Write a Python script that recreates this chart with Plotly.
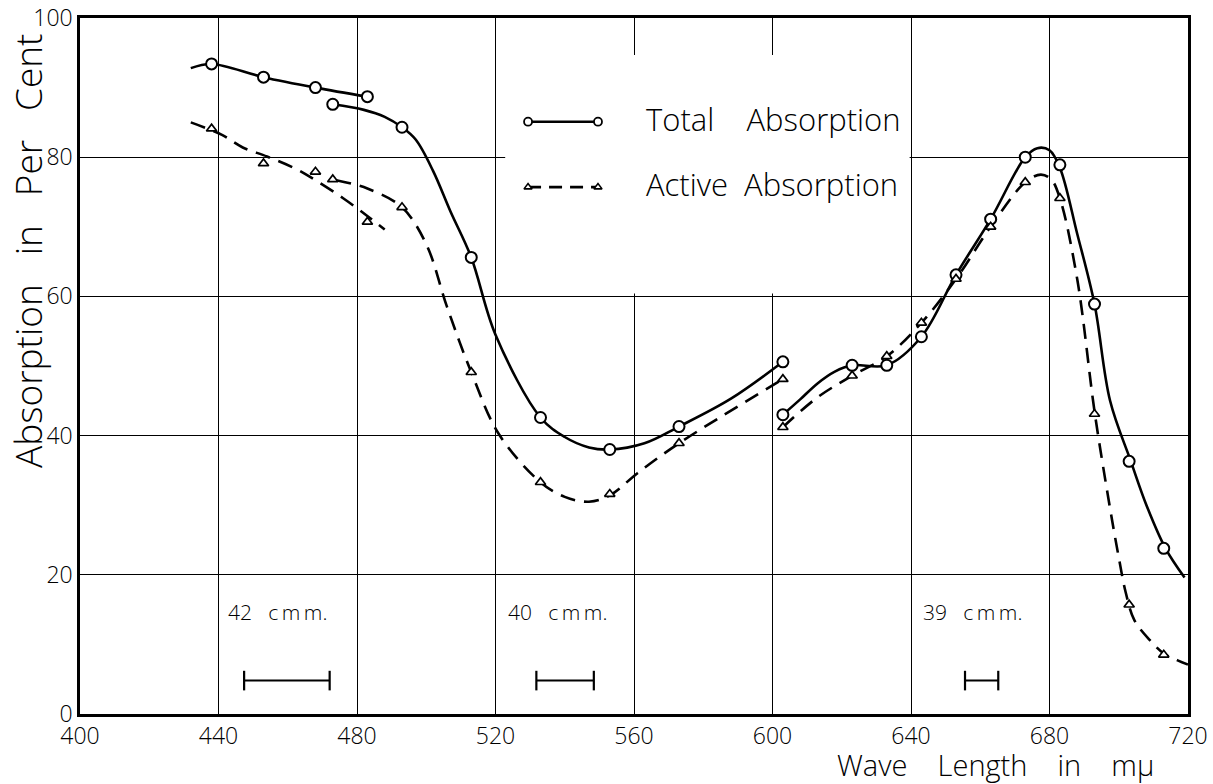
import plotly.graph_objects as go

# ---------------- data ----------------
# Total absorption: smooth curves (three experimental runs)
total_a_x = [432, 438, 453, 468, 483]
total_a_y = [92.8, 93.4, 91.5, 90.0, 88.7]
total_b_x = [473, 482, 488, 493, 497, 502, 507, 513, 520, 533, 540, 547, 553, 563, 573, 588, 603]
total_b_y = [87.6, 86.8, 85.8, 84.3, 82.5, 78.0, 72.2, 65.6, 54.5, 42.6, 39.8, 38.3, 38.0, 38.9, 41.3, 45.3, 50.6]
total_c_x = [603, 608, 613, 618, 623, 633, 643, 653, 663, 673, 676.5, 680, 683, 688, 693, 697.5, 703.5, 708, 713.5, 719]
total_c_y = [43.0, 45.2, 47.5, 49.2, 50.1, 50.1, 54.2, 63.1, 71.1, 80.0, 81.3, 81.0, 78.5, 69.0, 58.9, 45.0, 36.3, 30.0, 23.8, 19.6]

# Active absorption: smooth curves
active_a_x = [432, 441, 447, 454, 462, 468, 476, 482.6, 488]
active_a_y = [85.0, 83.2, 81.4, 80.1, 78.4, 76.7, 74.1, 71.7, 69.6]
active_b_x = [474, 483, 493, 500, 506, 513, 521, 533, 540, 547, 553, 561, 573, 603]
active_b_y = [76.7, 75.5, 72.8, 67.5, 58.5, 49.1, 40.2, 33.3, 31.2, 30.5, 31.4, 34.6, 38.9, 48.1]
active_c_x = [603, 613, 623, 633, 643, 653, 663, 673, 677.5, 680.5, 683, 688, 693, 697, 700, 702, 704.5, 709, 713, 717, 720]
active_c_y = [41.2, 45.5, 48.6, 51.4, 56.2, 62.5, 70.0, 76.4, 77.5, 76.8, 74.1, 62.5, 43.5, 31.0, 22.5, 17.5, 13.5, 10.6, 8.7, 7.7, 7.1]

# measured points
total_mx = [438, 453, 468, 473, 483, 493, 513, 533, 553, 573, 603, 603, 623, 633, 643, 653, 663, 673, 683, 693, 703, 713]
total_my = [93.4, 91.5, 90.0, 87.6, 88.7, 84.3, 65.6, 42.6, 38.0, 41.3, 50.6, 43.0, 50.1, 50.1, 54.2, 63.1, 71.1, 80.0, 78.9, 58.9, 36.3, 23.8]
active_mx = [438, 453, 468, 473, 483, 493, 513, 533, 553, 573, 603, 603, 623, 633, 643, 653, 663, 673, 683, 693, 703, 713]
active_my = [84.1, 79.1, 77.9, 76.8, 70.7, 72.8, 49.1, 33.3, 31.6, 38.9, 48.1, 41.2, 48.6, 51.4, 56.2, 62.5, 70.0, 76.4, 74.1, 43.1, 15.7, 8.5]

# slit-width bars and their labels
bar_start = [447.4, 531.8, 655.6]
bar_end = [472.1, 548.4, 665.2]
bar_y = 4.8
bar_labels = ["42", "40", "39"]
label_x = [442.3, 523.0, 642.9]
label_y = 14.6

x_ticks = [400, 440, 480, 520, 560, 600, 640, 680, 720]
y_ticks = [0, 20, 40, 60, 80, 100]

FONT = "Open Sans"
W = 300
NB = "\u00a0"

fig = go.Figure()

solid = dict(color="black", width=2.6, shape="spline", smoothing=1.0)
dashed = dict(color="black", width=2.6, shape="spline", smoothing=1.0, dash="15px,9px")

for xs, ys in [(total_a_x, total_a_y), (total_b_x, total_b_y), (total_c_x, total_c_y)]:
    fig.add_trace(go.Scatter(x=xs, y=ys, mode="lines", line=solid, showlegend=False, hoverinfo="skip"))
for xs, ys in [(active_a_x, active_a_y), (active_b_x, active_b_y), (active_c_x, active_c_y)]:
    fig.add_trace(go.Scatter(x=xs, y=ys, mode="lines", line=dashed, showlegend=False, hoverinfo="skip"))

fig.add_trace(go.Scatter(
    x=total_mx, y=total_my, mode="markers", showlegend=False,
    marker=dict(symbol="circle", size=11, color="white", line=dict(color="black", width=2))))
fig.add_trace(go.Scatter(
    x=active_mx, y=active_my, mode="markers", showlegend=False,
    marker=dict(symbol="triangle-up", size=9, color="white", line=dict(color="black", width=1.7))))

# slit bars
bx, by = [], []
for s, e in zip(bar_start, bar_end):
    bx += [s, e, None]
    by += [bar_y, bar_y, None]
fig.add_trace(go.Scatter(
    x=bx, y=by, mode="lines+markers", showlegend=False, hoverinfo="skip",
    line=dict(color="black", width=2),
    marker=dict(symbol="line-ns", size=14, line=dict(color="black", width=2.2))))

annotations = []
for lab, lx in zip(bar_labels, label_x):
    annotations.append(dict(
        x=lx, y=label_y, xref="x", yref="y", xanchor="left", yanchor="middle",
        text=lab + NB * 3 + "c\u2009m\u2009m.", showarrow=False,
        font=dict(family=FONT, size=21, color="black", weight=W)))

# legend (drawn by hand to reproduce the o——o style)
lg_x0, lg_x1 = 529.4, 549.6
lg_y = [85.1, 75.7]
lg_text = ["Total" + NB * 4 + "Absorption", "Active" + NB * 2 + "Absorption"]
shapes = [
    dict(type="rect", xref="x", yref="y", x0=522.8, x1=639.6, y0=60.4, y1=94.7,
         fillcolor="white", line=dict(width=0), layer="between"),
]
fig.add_trace(go.Scatter(x=[lg_x0, lg_x1], y=[lg_y[0]] * 2, mode="lines+markers", showlegend=False,
                         hoverinfo="skip", line=dict(color="black", width=2.6),
                         marker=dict(symbol="circle", size=8, color="white", line=dict(color="black", width=1.8))))
fig.add_trace(go.Scatter(x=[lg_x0, lg_x1], y=[lg_y[1]] * 2, mode="lines+markers", showlegend=False,
                         hoverinfo="skip", line=dict(color="black", width=2.6, dash="13px,8px"),
                         marker=dict(symbol="triangle-up", size=7, color="white", line=dict(color="black", width=1.6))))
for yv, txt in zip(lg_y, lg_text):
    annotations.append(dict(x=562.9, y=yv + 0.4, xref="x", yref="y", xanchor="left", yanchor="middle",
                            text=txt, showarrow=False, font=dict(family=FONT, size=31, color="black", weight=W)))

# axis titles
annotations.append(dict(
    x=-0.048, y=0.665, xref="paper", yref="paper", textangle=-90, xanchor="center", yanchor="middle",
    text="Absorption" + NB * 3 + "in" + NB * 3 + "Per" + NB * 3 + "Cent", showarrow=False,
    font=dict(family=FONT, size=37, color="black", weight=W)))
annotations.append(dict(
    x=0.826, y=-0.072, xref="paper", yref="paper", xanchor="center", yanchor="middle",
    text="Wave" + NB * 4 + "Length" + NB * 4 + "in" + NB * 4 + "m\u03bc", showarrow=False,
    font=dict(family=FONT, size=29, color="black", weight=W)))

fig.update_layout(
    width=1213, height=784,
    margin=dict(l=80, r=25, t=18, b=70, autoexpand=False),
    paper_bgcolor="white", plot_bgcolor="white",
    font=dict(family=FONT, size=23, color="black", weight=W),
    shapes=shapes, annotations=annotations,
    showlegend=False,
)
fig.update_xaxes(range=[400, 720], tickvals=x_ticks, showgrid=True, gridcolor="black", gridwidth=1,
                 showline=True, linecolor="black", linewidth=2.5, mirror=True, ticks="",
                 zeroline=False, automargin=False, tickfont=dict(size=23, family=FONT, weight=W))
fig.update_yaxes(range=[0, 100], tickvals=y_ticks, showgrid=True, gridcolor="black", gridwidth=1,
                 showline=True, linecolor="black", linewidth=2.5, mirror=True, ticks="",
                 zeroline=False, automargin=False, tickfont=dict(size=23, family=FONT, weight=W))

fig.write_html("out.html", config={"displayModeBar": False},
               post_script="document.body.style.margin='0px';document.body.style.overflow='hidden';")
